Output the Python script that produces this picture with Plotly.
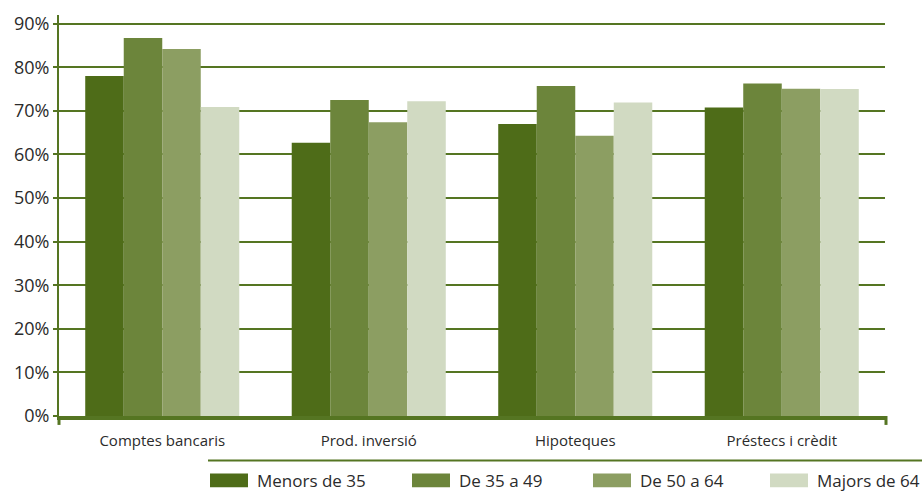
import plotly.graph_objects as go

categories = ["Comptes bancaris", "Prod. inversió", "Hipoteques", "Préstecs i crèdit"]
series_names = ["Menors de 35", "De 35 a 49", "De 50 a 64", "Majors de 64"]
menors_35 = [78.0, 62.7, 67.0, 70.8]
de_35_49 = [86.7, 72.5, 75.7, 76.3]
de_50_64 = [84.2, 67.4, 64.3, 75.1]
majors_64 = [70.9, 72.2, 71.9, 75.0]
y_tickvals = [0, 10, 20, 30, 40, 50, 60, 70, 80, 90]
y_ticktext = ["0%", "10%", "20%", "30%", "40%", "50%", "60%", "70%", "80%", "90%"]

series_values = [menors_35, de_35_49, de_50_64, majors_64]
colors = ["#4E6C18", "#6C853B", "#8C9E62", "#D1DAC2"]
green = "#557522"
font_family = "Open Sans"
text_color = "#2b2b2b"

W, H = 922, 493
ML, MR, MT, MB = 59, 37, 11, 77
PW, PH = W - ML - MR, H - MT - MB


def px_x(x):
    return (x - ML) / PW


def px_y(y):
    return (H - MB - y) / PH


fig = go.Figure()
for name, vals, col in zip(series_names, series_values, colors):
    fig.add_trace(go.Bar(
        name=name, x=categories, y=vals,
        marker=dict(color=col, line=dict(width=0)),
        showlegend=False,
    ))

shapes = []
annotations = []
# small end ticks below the x axis
for xx in (59, 886):
    shapes.append(dict(type="line", xref="paper", yref="paper",
                       x0=px_x(xx), x1=px_x(xx), y0=px_y(416), y1=px_y(425),
                       line=dict(color=green, width=3)))
# legend separator line
shapes.append(dict(type="line", xref="paper", yref="paper",
                   x0=px_x(208), x1=px_x(922), y0=px_y(461), y1=px_y(461),
                   line=dict(color=green, width=2)))
# legend entries (swatch + text)
legend_swatch_x = [210, 412, 593, 770]
for name, col, sx in zip(series_names, colors, legend_swatch_x):
    shapes.append(dict(type="rect", xref="paper", yref="paper",
                       x0=px_x(sx), x1=px_x(sx + 38), y0=px_y(488), y1=px_y(474),
                       fillcolor=col, line=dict(width=0)))
    annotations.append(dict(xref="paper", yref="paper", x=px_x(sx + 45), y=px_y(481),
                            xanchor="left", yanchor="middle", showarrow=False,
                            text=name, font=dict(family=font_family, size=17, color=text_color)))

fig.update_layout(
    width=W, height=H,
    margin=dict(l=ML, r=MR, t=MT, b=MB, pad=0),
    paper_bgcolor="white", plot_bgcolor="white",
    barmode="group", bargap=0.254, bargroupgap=0,
    shapes=shapes, annotations=annotations,
    showlegend=False,
    font=dict(family=font_family, color=text_color),
)
fig.update_xaxes(
    type="category", range=[-0.5, 3.5],
    showline=True, linecolor=green, linewidth=4,
    ticks="", showgrid=False, ticklabelstandoff=8,
    tickfont=dict(family=font_family, size=15, color=text_color),
)
fig.update_yaxes(
    range=[0, 92], tickvals=y_tickvals, ticktext=y_ticktext,
    showline=True, linecolor=green, linewidth=2,
    ticks="outside", ticklen=4, tickcolor=green, tickwidth=2,
    showgrid=True, gridcolor=green, gridwidth=1.5,
    zeroline=False,
    tickfont=dict(family=font_family, size=18, color=text_color),
)

fig.write_html("out.html", config={"displayModeBar": False},
               post_script="document.body.style.margin='0';document.body.style.overflow='hidden';")
